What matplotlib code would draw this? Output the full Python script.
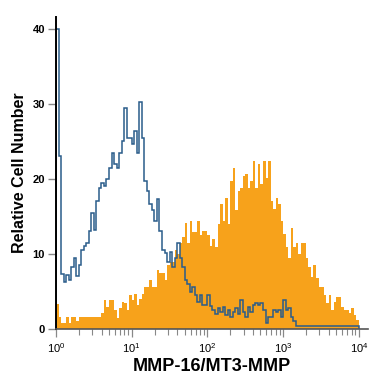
import numpy as np
import matplotlib
matplotlib.use("Agg")
import matplotlib.pyplot as plt
from matplotlib.ticker import LogLocator, NullFormatter

# 120 log-spaced channels from 10^0 to 10^4
edges = np.logspace(0, 4, 121)

# isotype control (blue outline)
control_counts = [
    40, 23, 7.3, 6.2, 7.2, 6.5, 8.2, 9.4, 7.1, 8.5,
    10.5, 11.1, 11.5, 13.1, 15.4, 13.2, 17, 18.8, 19.5, 19.0,
    20.0, 21.5, 23.5, 22.0, 21.5, 23.4, 25.0, 29.4, 25.5, 25.4,
    24.6, 26.4, 23.5, 30.3, 25.4, 19.7, 18.4, 16.7, 15.8, 14.4,
    17.3, 13.1, 10.5, 10.1, 8.9, 10.2, 8.2, 9.5, 11.5, 9.5,
    8.2, 6.5, 6.0, 4.9, 5.6, 4.5, 3.6, 4.5, 3.2, 3.2,
    4.5, 3.0, 2.5, 2.0, 2.8, 2.2, 2.9, 1.8, 2.5, 1.6,
    2.2, 2.8, 2.0, 3.8, 2.2, 1.6, 2.9, 2.2, 3.2, 3.5,
    3.2, 3.5, 2.5, 0.8, 1.6, 1.6, 2.5, 2.2, 2.5, 1.6,
    3.8, 2.5, 2.8, 1.6, 1.0, 0.4, 0.4, 0.4, 0.4, 0.4,
    0.4, 0.4, 0.4, 0.4, 0.4, 0.4, 0.4, 0.4, 0.4, 0.4,
    0.4, 0.4, 0.4, 0.4, 0.4, 0.4, 0.4, 0.4, 0.4, 0.4,
]

# MMP-16 stained (orange filled)
stained_counts = [
    3.3, 1.6, 0.8, 0.8, 1.6, 0.8, 1.6, 1.6, 1.0, 1.6,
    1.6, 1.6, 1.6, 1.6, 1.6, 1.6, 1.6, 1.6, 2.1, 3.8,
    2.9, 3.8, 3.8, 2.5, 1.4, 2.8, 3.6, 3.4, 2.5, 4.5,
    3.8, 4.7, 3.2, 4.0, 4.7, 5.6, 5.6, 6.5, 5.6, 5.6,
    7.8, 7.4, 7.4, 6.5, 8.5, 8.9, 8.9, 10.5, 10.0, 11.4,
    12.2, 14.1, 11.5, 14.4, 12.9, 12.9, 14.4, 12.5, 13.1, 13.1,
    12.5, 11.0, 12.0, 10.9, 14.0, 16.7, 14.4, 17.5, 14.0, 19.7,
    21.5, 15.8, 18.4, 18.8, 20.4, 20.6, 18.8, 19.7, 22.4, 18.8,
    22.0, 19.3, 22.4, 20.1, 22.4, 17.0, 16.0, 17.5, 16.7, 14.4,
    12.7, 10.9, 9.5, 13.5, 10.9, 11.5, 10.0, 11.4, 11.5, 9.5,
    8.2, 6.9, 8.5, 6.8, 5.6, 5.6, 4.5, 3.4, 4.5, 2.5,
    3.6, 4.2, 4.2, 2.9, 2.5, 2.5, 2.1, 2.8, 1.9, 1.2,
]

yticks = [0, 10, 20, 30, 40]

plt.rcParams['font.family'] = ['Liberation Sans', 'DejaVu Sans']

fig = plt.figure(figsize=(3.75, 3.75), dpi=100)
ax = fig.add_axes([0.1493, 0.1227, 0.832, 0.832])

ax.stairs(stained_counts, edges, fill=True, color='#F7A21B', zorder=1)
ax.stairs(control_counts, edges, color='#2A5C8A', linewidth=1.1, zorder=2)

ax.set_xscale('log')
ax.set_xlim(1, 10 ** 4.12)
ax.set_ylim(0, 41.6)

ax.xaxis.set_major_locator(LogLocator(base=10, numticks=6))
ax.xaxis.set_minor_locator(LogLocator(base=10, subs=np.arange(2, 10), numticks=12))
ax.xaxis.set_minor_formatter(NullFormatter())
ax.set_yticks(yticks)

for side in ['top', 'right']:
    ax.spines[side].set_visible(False)
ax.spines['left'].set_color('black')
ax.spines['left'].set_linewidth(1.4)
ax.spines['bottom'].set_color('#555555')
ax.spines['bottom'].set_linewidth(1.2)

ax.tick_params(axis='y', which='major', length=6, width=1, color='#888888',
               labelsize=8, pad=2)
for lbl in ax.get_yticklabels():
    lbl.set_fontweight('bold')
ax.tick_params(axis='x', which='major', length=6, width=0.9, color='#888888',
               labelsize=8, pad=3)
ax.tick_params(axis='x', which='minor', length=4, width=0.8, color='#888888')

ax.set_ylabel('Relative Cell Number', fontsize=11.5, fontweight='bold', labelpad=4)
ax.set_xlabel('MMP-16/MT3-MMP', fontsize=13, fontweight='bold', labelpad=2)

fig.savefig('out.png', dpi=100)
